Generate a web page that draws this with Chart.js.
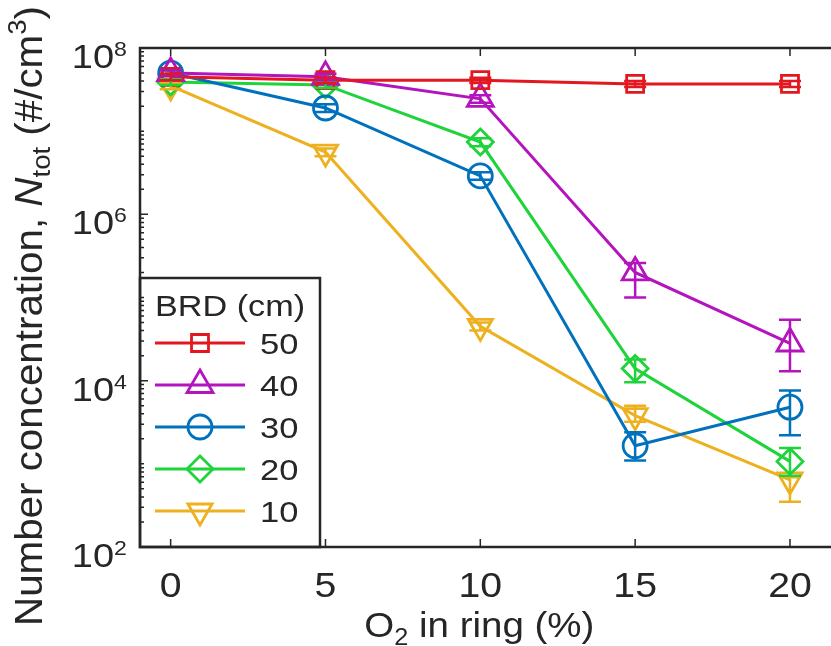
<!DOCTYPE html>
<html>
<head>
<meta charset="utf-8">
<script src="https://cdn.jsdelivr.net/npm/chart.js@4.4.1/dist/chart.umd.min.js"></script>
<style>
  html, body { margin: 0; padding: 0; background: #fff; }
  canvas { display: block; }
</style>
</head>
<body>
<canvas id="chart" width="831" height="646"></canvas>
<script>
// O2 in ring (%)
var o2Levels = [0, 5, 10, 15, 20];
var brdLabels = ['50', '40', '30', '20', '10'];

// N_tot (#/cm3), with error bar ends
var n50 = [4.5e7, 4.1e7, 4.1e7, 3.7e7, 3.7e7];
var lo50 = [4.1e7, 3.8e7, 3.8e7, 3.4e7, 3.4e7];
var hi50 = [4.9e7, 4.4e7, 4.4e7, 4.0e7, 4.0e7];

var n40 = [5.0e7, 4.5e7, 2.45e7, 2.0e5, 2.8e4];
var lo40 = [4.6e7, 4.1e7, 2.2e7, 1.0e5, 1.3e4];
var hi40 = [5.4e7, 4.9e7, 2.7e7, 2.6e5, 5.4e4];

var n30 = [5.0e7, 1.9e7, 2.9e6, 1.65e3, 4.8e3];
var lo30 = [4.6e7, 1.7e7, 2.6e6, 1.1e3, 2.2e3];
var hi30 = [5.4e7, 2.1e7, 3.2e6, 2.4e3, 7.6e3];

var n20 = [3.9e7, 3.6e7, 7.4e6, 1.4e4, 1.07e3];
var lo20 = [3.6e7, 3.3e7, 6.6e6, 9.6e3, 7.2e2];
var hi20 = [4.2e7, 3.9e7, 8.2e6, 1.8e4, 1.55e3];

var n10 = [3.5e7, 5.6e6, 4.5e4, 3.8e3, 6.4e2];
var lo10 = [3.2e7, 5.0e6, 4.0e4, 3.2e3, 3.5e2];
var hi10 = [3.8e7, 6.2e6, 5.0e4, 5.0e3, 6.9e2];

var xTicks = [0, 5, 10, 15, 20];
var yTickExps = [2, 4, 6, 8];

var FONT = '"Liberation Sans", Arial, sans-serif';
var INK = '#262626';

function pts(vals) {
	return o2Levels.map(function(x, i) { return {x: x, y: vals[i]}; });
}

function series(label, vals, lo, hi, color, style, radius, rot) {
	return {
		label: label,
		data: pts(vals),
		errLow: lo,
		errHigh: hi,
		borderColor: color,
		backgroundColor: color,
		borderWidth: 3,
		pointStyle: style,
		pointRadius: radius,
		pointRotation: rot || 0,
		pointBorderWidth: 2.8,
		pointBorderColor: color,
		pointBackgroundColor: 'rgba(0,0,0,0)',
		tension: 0
	};
}

// stretched text, the reference glyphs are a bit wide
function wideText(ctx, str, x, y, font, align, sx) {
	ctx.save();
	ctx.font = font;
	ctx.textAlign = 'left';
	ctx.textBaseline = 'alphabetic';
	var w = ctx.measureText(str).width * sx;
	var left = align === 'center' ? x - w / 2 : (align === 'right' ? x - w : x);
	ctx.translate(left, y);
	ctx.scale(sx, 1);
	ctx.fillText(str, 0, 0);
	ctx.restore();
	return w;
}

// pieces: {t, font, dy}; drawn centred on (cx, cy) along a rotated baseline
function richText(ctx, pieces, cx, cy, angle, targetLen) {
	var total = 0;
	pieces.forEach(function(p) {
		ctx.font = p.font;
		p.w = ctx.measureText(p.t).width;
		total += p.w;
	});
	var s = targetLen / total;
	ctx.save();
	ctx.translate(cx, cy);
	ctx.rotate(angle);
	ctx.scale(s, 1);
	ctx.textAlign = 'left';
	ctx.textBaseline = 'alphabetic';
	var x = -total / 2;
	pieces.forEach(function(p) {
		ctx.font = p.font;
		ctx.fillText(p.t, x, p.dy || 0);
		x += p.w;
	});
	ctx.restore();
}

var errorBars = {
	id: 'errorBars',
	afterDatasetsDraw: function(chart) {
		var ctx = chart.ctx, xs = chart.scales.x, ys = chart.scales.y;
		var cap = 11;
		ctx.save();
		for (var i = chart.data.datasets.length - 1; i >= 0; i--) {
			var ds = chart.data.datasets[i];
			ctx.strokeStyle = ds.borderColor;
			ctx.lineWidth = 2.5;
			ds.data.forEach(function(p, j) {
				var x = xs.getPixelForValue(p.x);
				var y1 = ys.getPixelForValue(ds.errLow[j]);
				var y2 = ys.getPixelForValue(ds.errHigh[j]);
				ctx.beginPath();
				ctx.moveTo(x, y1); ctx.lineTo(x, y2);
				ctx.moveTo(x - cap, y1); ctx.lineTo(x + cap, y1);
				ctx.moveTo(x - cap, y2); ctx.lineTo(x + cap, y2);
				ctx.stroke();
			});
		}
		ctx.restore();
	}
};

var boxLegend = {
	id: 'boxLegend',
	afterDatasetsDraw: function(chart) {
		var ctx = chart.ctx, area = chart.chartArea;
		var left = area.left, bottom = area.bottom;
		var w = 180, h = 269, top = bottom - h;
		ctx.save();
		ctx.fillStyle = '#fff';
		ctx.fillRect(left, top, w, h);
		ctx.strokeStyle = INK;
		ctx.lineWidth = 2.5;
		ctx.strokeRect(left, top, w, h);
		ctx.fillStyle = INK;
		wideText(ctx, 'BRD (cm)', left + 15, top + 38, '30px ' + FONT, 'left', 1.14);
		chart.data.datasets.forEach(function(ds, i) {
			var y = top + 65 + i * 42;
			ctx.strokeStyle = ds.borderColor;
			ctx.lineWidth = 3;
			ctx.beginPath();
			ctx.moveTo(left + 15, y);
			ctx.lineTo(left + 105, y);
			ctx.stroke();
			ctx.fillStyle = 'rgba(0,0,0,0)';
			ctx.lineWidth = 2.8;
			Chart.helpers.drawPoint(ctx, {
				pointStyle: ds.pointStyle,
				radius: ds.pointRadius,
				rotation: ds.pointRotation,
				borderWidth: 2.8
			}, left + 60, y);
			ctx.fillStyle = INK;
			wideText(ctx, ds.label, left + 120, y + 11, '30px ' + FONT, 'left', 1.15);
		});
		ctx.restore();
	}
};

var frameAxes = {
	id: 'frameAxes',
	afterDraw: function(chart) {
		var ctx = chart.ctx, a = chart.chartArea, xs = chart.scales.x, ys = chart.scales.y;
		ctx.save();
		ctx.strokeStyle = INK;
		ctx.lineWidth = 2.5;
		ctx.beginPath();
		ctx.moveTo(chart.width, a.top);
		ctx.lineTo(a.left, a.top);
		ctx.lineTo(a.left, a.bottom);
		ctx.lineTo(chart.width, a.bottom);
		ctx.stroke();

		ctx.lineWidth = 1.5;
		ctx.beginPath();
		xTicks.forEach(function(v) {
			var x = xs.getPixelForValue(v);
			ctx.moveTo(x, a.bottom); ctx.lineTo(x, a.bottom - 8);
			ctx.moveTo(x, a.top); ctx.lineTo(x, a.top + 8);
		});
		for (var e = 2; e <= 8; e++) {
			for (var k = 1; k <= 9; k++) {
				if (e === 8 && k > 1) break;
				var y = ys.getPixelForValue(k * Math.pow(10, e));
				var len = (k === 1 && e % 2 === 0) ? 8 : 4;
				ctx.moveTo(a.left, y); ctx.lineTo(a.left + len, y);
			}
		}
		ctx.stroke();

		ctx.fillStyle = INK;
		xTicks.forEach(function(v) {
			wideText(ctx, String(v), xs.getPixelForValue(v), 597, '35px ' + FONT, 'center', 1.12);
		});
		yTickExps.forEach(function(e) {
			var y = ys.getPixelForValue(Math.pow(10, e));
			wideText(ctx, '10', 114, y + 20, '33px ' + FONT, 'right', 1.15);
			wideText(ctx, String(e), 114, y + 8, '21px ' + FONT, 'left', 1.1);
		});

		richText(ctx, [
			{t: 'Number concentration, ', font: '38px ' + FONT},
			{t: 'N', font: 'italic 38px ' + FONT},
			{t: 'tot', font: '26px ' + FONT, dy: 8},
			{t: ' (#/cm', font: '38px ' + FONT},
			{t: '3', font: '26px ' + FONT, dy: -16},
			{t: ')', font: '38px ' + FONT}
		], 42, 316, -Math.PI / 2, 620);

		richText(ctx, [
			{t: 'O', font: '35px ' + FONT},
			{t: '2', font: '23px ' + FONT, dy: 8},
			{t: ' in ring (%)', font: '35px ' + FONT}
		], xs.getPixelForValue(10) - 1, 637, 0, 230);
		ctx.restore();
	}
};

var chartData = {
	datasets: [
		series(brdLabels[0], n50, lo50, hi50, '#e3171f', 'rect', 12),
		series(brdLabels[1], n40, lo40, hi40, '#b414be', 'triangle', 15),
		series(brdLabels[2], n30, lo30, hi30, '#0072bd', 'circle', 12),
		series(brdLabels[3], n20, lo20, hi20, '#1fd33a', 'rectRot', 13),
		series(brdLabels[4], n10, lo10, hi10, '#edb120', 'triangle', 14, 180)
	]
};

var thisChart = new Chart(document.getElementById('chart'), {
	type: 'line',
	data: chartData,
	options: {
		responsive: false,
		animation: false,
		layout: { padding: { top: 48, left: 0, right: 0, bottom: 0 } },
		plugins: { legend: { display: false }, tooltip: { enabled: false } },
		scales: {
			x: {
				type: 'linear', min: -0.99, max: 20.75,
				ticks: { display: false }, grid: { display: false }, border: { display: false },
				afterFit: function(s) { s.height = 99; }
			},
			y: {
				type: 'logarithmic', min: 1e2, max: 1e8,
				ticks: { display: false }, grid: { display: false }, border: { display: false },
				afterFit: function(s) { s.width = 140; }
			}
		}
	},
	plugins: [errorBars, boxLegend, frameAxes]
});
</script>
</body>
</html>
